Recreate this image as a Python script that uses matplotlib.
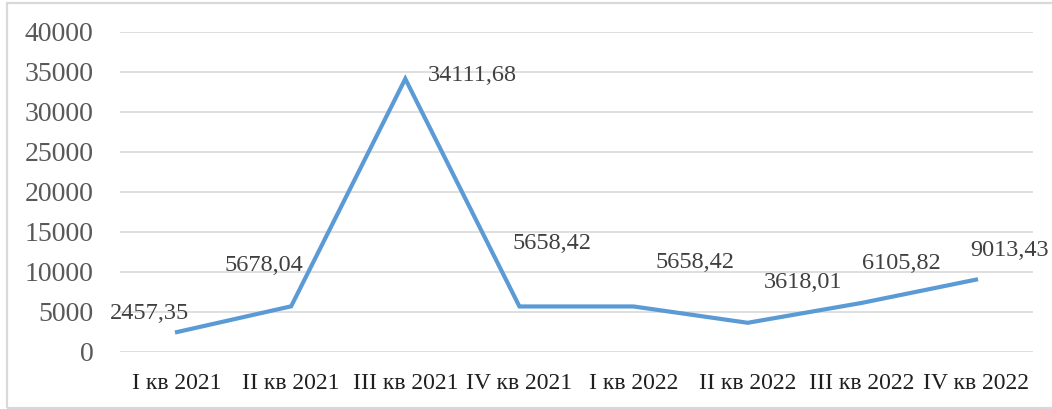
import matplotlib
matplotlib.use("Agg")
import matplotlib.pyplot as plt
from matplotlib.patches import Rectangle

categories = ["I кв 2021", "II кв 2021", "III кв 2021", "IV кв 2021",
              "I кв 2022", "II кв 2022", "III кв 2022", "IV кв 2022"]
values = [2457.35, 5678.04, 34111.68, 5658.42, 5658.42, 3618.01, 6105.82, 9013.43]
value_labels = ["2457,35", "5678,04", "34111,68", "5658,42",
                "5658,42", "3618,01", "6105,82", "9013,43"]
y_ticks = [0, 5000, 10000, 15000, 20000, 25000, 30000, 35000, 40000]

# label offsets in pixels (dx, dy up)
label_offsets = [(-27, 19), (-27, 41), (67, 3), (33, 63),
                 (61, 44), (55, 40), (40, 39), (34, 29)]

plt.rcParams['font.family'] = ['Liberation Serif', 'DejaVu Serif']

fig = plt.figure(figsize=(10.52, 4.09), dpi=100)
ax = fig.add_axes([0.114, 0.140, 0.868, 0.7825])

x = list(range(len(categories)))
ax.plot(x, values, color="#5B9BD5", linewidth=3.0, solid_joinstyle='miter', zorder=3)

for xi, v, lab, (dx, dy) in zip(x, values, value_labels, label_offsets):
    ax.annotate(lab, (xi, v), xytext=(dx, dy), textcoords='offset pixels',
                ha='center', va='center', fontsize=17.5, color="#404040",
                annotation_clip=False)

ax.set_xlim(-0.5, len(categories) - 0.5)
ax.set_ylim(0, 40000)
ax.set_yticks(y_ticks)
ax.set_yticklabels([str(t) for t in y_ticks])
ax.set_xticks(x)
ax.set_xticklabels(categories)
ax.tick_params(axis='y', length=0, pad=19, labelsize=20, labelcolor="#595959")
ax.tick_params(axis='x', length=0, pad=15, labelsize=17, labelcolor="#1f1f1f")
ax.grid(axis='y', color="#d9d9d9", linewidth=1.2)
ax.set_axisbelow(True)
for s in ax.spines.values():
    s.set_visible(False)

fig.patches.append(Rectangle((7 / 1052, 1 / 409), 1.2, 405 / 409,
                             transform=fig.transFigure, fill=False,
                             edgecolor="#d9d9d9", linewidth=1.6, zorder=0))

fig.savefig("out.png", dpi=100)
